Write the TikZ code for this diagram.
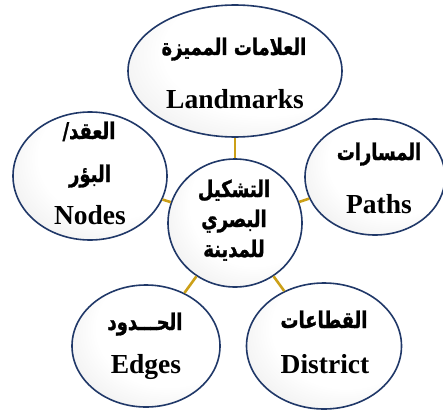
\documentclass[tikz,border=0pt]{standalone}
\usepackage{fontspec}
\setmainfont{Liberation Serif}
\newfontfamily\arabicfont[Script=Arabic, FakeStretch=0.78, BoldFeatures={FakeBold=1.2}]{DejaVu Sans}
\TeXXeTstate=1
\usetikzlibrary{shapes.geometric}
\definecolor{rim}{RGB}{32,56,104}
\definecolor{linkgold}{RGB}{204,160,24}
\pgfdeclareradialshading{bubble}{\pgfpoint{14bp}{14bp}}{color(0bp)=(white);color(24bp)=(white);color(36bp)=(black!7);color(50bp)=(black!15)}
\tikzset{
  bubble/.style={ellipse, draw=rim, line width=1.6pt, shade, shading=bubble, inner sep=0pt},
  link/.style={draw=linkgold, line width=2.6pt},
  lat/.style={anchor=base, inner sep=0pt, font=\fontsize{27.5}{30}\selectfont\bfseries},
  arb/.style={anchor=base, inner sep=0pt, font=\fontsize{23}{26}\selectfont\arabicfont\bfseries},
}
\begin{document}
\begin{tikzpicture}[x=1pt, y=-1pt]
  \useasboundingbox (0,0) rectangle (443,409);

  % bubbles
  \node[bubble, minimum width=214pt, minimum height=132pt] (land) at (235,71) {};
  \node[bubble, minimum width=154pt, minimum height=128pt] (node) at (90,176) {};
  \node[bubble, minimum width=140pt, minimum height=116pt] (path) at (375,177) {};
  \node[bubble, minimum width=148pt, minimum height=122pt] (edge) at (146,346) {};
  \node[bubble, minimum width=155pt, minimum height=126pt] (dist) at (324,346) {};
  \node[bubble, minimum width=134pt, minimum height=128pt] (city) at (235,223) {};

  % connectors
  \draw[link] (land) -- (city);
  \draw[link] (node) -- (city);
  \draw[link] (path) -- (city);
  \draw[link] (edge) -- (city);
  \draw[link] (dist) -- (city);

  % labels
  \node[arb] (landA) at (234,55) {\beginR العلامات المميزة\endR};
  \node[lat] (landL) at (235,108) {Landmarks};

  \node[arb] (nodeA) at (89,139) {\beginR العقد/\endR};
  \node[arb] (nodeB) at (90,182) {\beginR البؤر\endR};
  \node[lat] (nodeL) at (90,224) {Nodes};

  \node[arb] (pathA) at (379,160) {\beginR المسارات\endR};
  \node[lat] (pathL) at (379,213) {Paths};

  \node[arb] (edgeA) at (145,330) {\beginR الحـــدود\endR};
  \node[lat] (edgeL) at (146,373) {Edges};

  \node[arb] (distA) at (324,328) {\beginR القطاعات\endR};
  \node[lat] (distL) at (325,373) {District};

  \node[arb] (cityA) at (234,197) {\beginR التشكيل\endR};
  \node[arb] (cityB) at (234,227) {\beginR البصري\endR};
  \node[arb] (cityC) at (234,257) {\beginR للمدينة\endR};
\end{tikzpicture}
\end{document}
